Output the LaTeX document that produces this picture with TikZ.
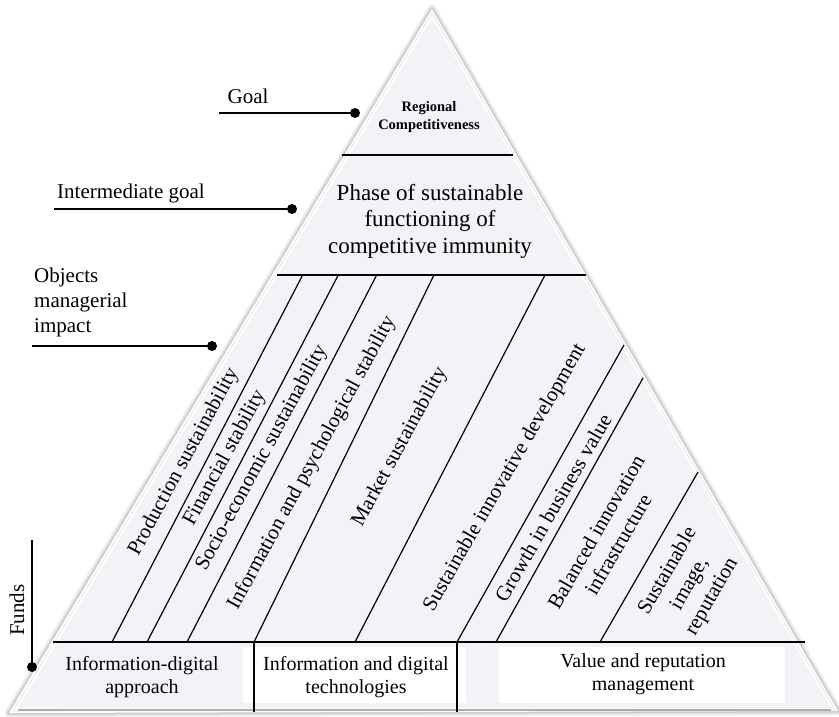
\documentclass[tikz,border=0pt]{standalone}
\usepackage{fontspec}
\setmainfont{Liberation Serif}
\definecolor{pyrfill}{RGB}{242,243,246}
\definecolor{pyrshade}{RGB}{170,172,176}
\begin{document}
\begin{tikzpicture}[x=1pt,y=-1pt,
  lbl/.style={font=\fontsize{21}{25}\selectfont, inner sep=0pt},
  diagtxt/.style={font=\fontsize{21}{25.5}\selectfont, rotate=61.5, align=center, inner sep=0pt},
  diagtxtr/.style={diagtxt, rotate=-1.5},
  boxtxt/.style={font=\fontsize{20}{22.5}\selectfont, align=center, inner sep=0pt},
  heavy/.style={line width=2.1pt},
  diag/.style={line width=1.2pt},
  leader/.style={line width=1.8pt},
  pin/.style={circle, fill=black, inner sep=0pt, minimum size=10pt},
  whitebox/.style={fill=white, draw=none}]
\useasboundingbox (0,0) rectangle (839,717);

% --- pyramid body with a soft bevel ---
\coordinate (oA) at (432,9);
\coordinate (oL) at (9,713);
\coordinate (oR) at (838,711);
\coordinate (iA) at (432,18);
\coordinate (iL) at (18,708);
\coordinate (iR) at (831,708);
\foreach \w/\o in {9/0.05,6/0.07,3/0.10}
  \draw[line width=\w pt, black, opacity=\o, line join=round] (oA) -- (oL) -- (oR) -- cycle;
\fill[white] (oA) -- (oL) -- (oR) -- cycle;
\draw[black!12, line width=0.6pt] (432,13) -- (13,711) -- (835,710) -- cycle;
\fill[pyrfill] (iA) -- (iL) -- (iR) -- cycle;
\draw[pyrshade, line width=1.6pt] (iL) ++(0,2) -- ++(813,0);

% --- level separators ---
\coordinate (topL) at (342,155);
\coordinate (topR) at (513,155);
\draw[heavy] (topL) -- (topR);
\coordinate (midL) at (277,275);
\coordinate (midR) at (586,275);
\draw[line width=1.5pt] (midL) -- (midR);

% --- bottom boxes ---
\fill[whitebox] (243,647) rectangle (466,703);
\fill[whitebox] (499,647) rectangle (785,703);
\coordinate (botL) at (53,642);
\coordinate (botR) at (805,642);
\draw[heavy] (botL) -- (botR);
\coordinate (v1t) at (254,642);
\coordinate (v1b) at (254,712);
\coordinate (v2t) at (457,642);
\coordinate (v2b) at (457,712);
\draw[heavy] (v1t) -- (v1b);
\draw[heavy] (v2t) -- (v2b);

% --- diagonal dividers of the impact level ---
\coordinate (d1t) at (302.7,275); \coordinate (d1b) at (112,642);
\coordinate (d2t) at (338.3,275); \coordinate (d2b) at (147,642);
\coordinate (d3t) at (376.7,275); \coordinate (d3b) at (187,642);
\coordinate (d4t) at (434,275);   \coordinate (d4b) at (254,642);
\coordinate (d5t) at (545,275);   \coordinate (d5b) at (355,642);
\coordinate (d6t) at (624,345);   \coordinate (d6b) at (457,642);
\coordinate (d7t) at (643,378);   \coordinate (d7b) at (496,642);
\coordinate (d8t) at (698,472);   \coordinate (d8b) at (600,642);
\foreach \i in {1,...,8} \draw[diag] (d\i t) -- (d\i b);

% --- texts inside the pyramid ---
\node[font=\bfseries\fontsize{14.5}{18}\selectfont, align=center, inner sep=0pt] (regcomp) at (429,117) {Regional\\Competitiveness};
\node[font=\fontsize{23}{26.5}\selectfont, align=center, inner sep=0pt] (phase) at (430,221) {Phase of sustainable\\functioning of\\competitive immunity};

\node[diagtxt] (t1) at (184,462) {Production sustainability};
\node[diagtxt] (t2) at (225,458) {Financial stability};
\node[diagtxt] (t3) at (262,458) {Socio-economic sustainability};
\node[diagtxt] (t4) at (312,463) {Information and psychological stability};
\node[diagtxt] (t5) at (400,447) {Market sustainability};
\node[diagtxtr] (t6) at (505,478) {Sustainable innovative development};
\node[diagtxtr] (t7) at (553,508) {Growth in business value};
\node[diagtxtr] (t8) at (607,538) {Balanced innovation\\infrastructure};
\node[diagtxtr] (t9) at (690,584) {Sustainable\\image,\\reputation};

\node[boxtxt] (b1) at (142,677) {Information-digital\\approach};
\node[boxtxt] (b2) at (356,677) {Information and digital\\technologies};
\node[boxtxt] (b3) at (643,674) {Value and reputation\\management};

% --- level labels with leaders ---
\node[lbl, anchor=base] (goal) at (248,103) {Goal};
\coordinate (goalstart) at (219,113);
\node[pin] (goaldot) at (355,113) {};
\draw[leader] (goalstart) -- (goaldot.center);

\node[lbl, anchor=base west] (intgoal) at (57,198) {Intermediate goal};
\coordinate (intstart) at (54,209);
\node[pin] (intdot) at (292,209) {};
\draw[leader] (intstart) -- (intdot.center);

\node[lbl, anchor=north west, align=left] (objects) at (34,268) {Objects\\managerial\\impact};
\coordinate (objstart) at (32,346);
\node[pin] (objdot) at (212,346) {};
\draw[leader] (objstart) -- (objdot.center);

\node[lbl, rotate=90] (funds) at (17,610) {Funds};
\coordinate (fundstart) at (32,540);
\node[pin] (funddot) at (32,667) {};
\draw[leader] (fundstart) -- (funddot.center);
\end{tikzpicture}
\end{document}
